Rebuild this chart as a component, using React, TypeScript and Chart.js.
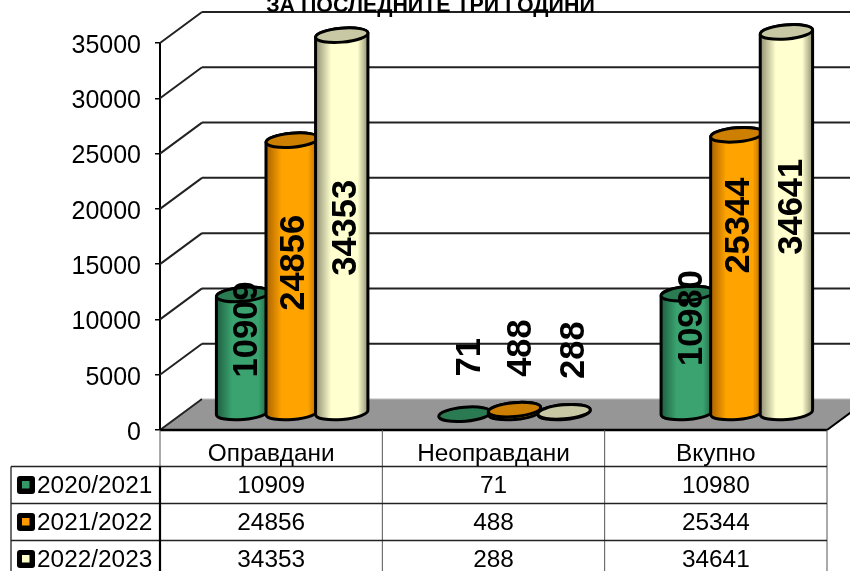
import React, { useEffect, useRef } from "react";
import { Chart, registerables } from "chart.js";

Chart.register(...registerables);

const categories = ["Оправдани", "Неоправдани", "Вкупно"];
const seriesNames = ["2020/2021", "2021/2022", "2022/2023"];
const values2021 = [10909, 71, 10980];
const values2122 = [24856, 488, 25344];
const values2223 = [34353, 288, 34641];
const titleText = "ЗА ПОСЛЕДНИТЕ ТРИ ГОДИНИ";

const FONT = '"Liberation Sans", Arial, sans-serif';
const DEPTH_X = 42;
const DEPTH_Y = 31;
const BAR_SHIFT_X = 21;
const TOP_SHIFT_Y = 15;
const BASE_SHIFT_Y = 17.5;
const ELLIPSE_RY = 7;
const TILT = (-5 * Math.PI) / 180;

const looks = [
  { main: "#3AA36F", dark: "#1E5E40", cap: "#2A7A52", key: "#339966" },
  { main: "#FFA300", dark: "#A86200", cap: "#CC7F00", key: "#FF9900" },
  { main: "#FFFFCF", dark: "#8F8F72", cap: "#C8C8A4", key: "#FFFFCC" },
];

// fine placement of the hand-moved value labels, per series then category
const labelNudge = [
  [[3.5, -24], [4.5, -56], [4.5, -35]],
  [[1.5, -13.5], [6, -63], [2, -48]],
  [[3.5, 4], [9.5, -62], [5.5, -15.5]],
];

const wallsPlugin = {
  id: "walls",
  beforeDatasetsDraw(chart: any) {
    const { ctx, chartArea, scales } = chart;
    const y = scales.y;
    const { left, right } = chartArea;
    const y0 = y.getPixelForValue(0);
    ctx.save();
    ctx.fillStyle = "#969696";
    ctx.beginPath();
    ctx.moveTo(left, y0);
    ctx.lineTo(right, y0);
    ctx.lineTo(right + DEPTH_X, y0 - DEPTH_Y);
    ctx.lineTo(left + DEPTH_X, y0 - DEPTH_Y);
    ctx.closePath();
    ctx.fill();

    ctx.strokeStyle = "#222";
    ctx.lineWidth = 2;
    y.ticks.forEach((t: any) => {
      const py = y.getPixelForValue(t.value);
      if (t.value !== 0) {
        ctx.beginPath();
        ctx.moveTo(left + DEPTH_X, py - DEPTH_Y);
        ctx.lineTo(right + DEPTH_X, py - DEPTH_Y);
        ctx.stroke();
      }
      ctx.beginPath();
      ctx.moveTo(left, py);
      ctx.lineTo(left + DEPTH_X, py - DEPTH_Y);
      ctx.stroke();
    });
    ctx.strokeStyle = "#bbb";
    ctx.lineWidth = 1;
    ctx.beginPath();
    ctx.moveTo(left + DEPTH_X, y0 - DEPTH_Y);
    ctx.lineTo(right + DEPTH_X, y0 - DEPTH_Y);
    ctx.stroke();

    ctx.strokeStyle = "#000";
    ctx.lineWidth = 2;
    ctx.beginPath();
    ctx.moveTo(right, y0);
    ctx.lineTo(right + DEPTH_X, y0 - DEPTH_Y);
    ctx.stroke();
    ctx.lineWidth = 2.6;
    ctx.beginPath();
    ctx.moveTo(left, y0);
    ctx.lineTo(right, y0);
    ctx.stroke();

    ctx.fillStyle = "#000";
    ctx.font = `bold 21.4px ${FONT}`;
    ctx.textAlign = "center";
    ctx.textBaseline = "alphabetic";
    ctx.fillText(titleText, 430.5, 12);
    ctx.restore();
  },
};

const cylinderPlugin = {
  id: "cylinders",
  afterDatasetsDraw(chart: any) {
    const { ctx, scales } = chart;
    const y0 = scales.y.getPixelForValue(0);
    const base = y0 - BASE_SHIFT_Y;
    ctx.save();
    chart.data.datasets.forEach((ds: any, s: number) => {
      const look = looks[s];
      chart.getDatasetMeta(s).data.forEach((bar: any) => {
        const cx = bar.x + BAR_SHIFT_X;
        const top = bar.y - TOP_SHIFT_Y;
        const rx = bar.width / 2;
        ctx.lineWidth = 3;
        ctx.strokeStyle = "#000";
        if (top < base) {
          const g = ctx.createLinearGradient(cx - rx, 0, cx + rx, 0);
          g.addColorStop(0, look.dark);
          g.addColorStop(0.3, look.main);
          g.addColorStop(0.8, look.main);
          g.addColorStop(1, look.dark);
          ctx.fillStyle = g;
          ctx.beginPath();
          ctx.ellipse(cx, base, rx, ELLIPSE_RY, TILT, 0, Math.PI);
          ctx.ellipse(cx, top, rx, ELLIPSE_RY, TILT, Math.PI, Math.PI * 2);
          ctx.closePath();
          ctx.fill();
          ctx.stroke();
        }
        ctx.fillStyle = look.cap;
        ctx.beginPath();
        ctx.ellipse(cx, top, rx, ELLIPSE_RY, TILT, 0, Math.PI * 2);
        ctx.fill();
        ctx.stroke();
      });
    });
    // value labels sit above every cylinder
    chart.data.datasets.forEach((ds: any, s: number) => {
      chart.getDatasetMeta(s).data.forEach((bar: any, c: number) => {
        const [dx, dy] = labelNudge[s][c];
        const top = bar.y - TOP_SHIFT_Y;
        ctx.save();
        ctx.translate(bar.x + BAR_SHIFT_X + dx, (top + base) / 2 + dy);
        ctx.rotate(-Math.PI / 2);
        ctx.fillStyle = "#000";
        ctx.font = `bold 34.5px ${FONT}`;
        ctx.textAlign = "center";
        ctx.textBaseline = "middle";
        ctx.fillText(String(ds.data[c]), 0, 1);
        ctx.restore();
      });
    });
    ctx.restore();
  },
};

const tablePlugin = {
  id: "dataTable",
  afterDraw(chart: any) {
    const { ctx, chartArea, data } = chart;
    const { left, right, bottom } = chartArea;
    const tableLeft = 11;
    const rowH = 37;
    const headBottom = bottom + 36.5;
    const colW = (right - left) / data.labels.length;
    ctx.save();
    ctx.fillStyle = "#000";
    ctx.font = `24.4px ${FONT}`;
    ctx.textBaseline = "middle";

    ctx.strokeStyle = "#555";
    ctx.lineWidth = 1;
    for (let c = 1; c <= data.labels.length; c++) {
      const x = left + c * colW;
      ctx.beginPath();
      ctx.moveTo(x, bottom);
      ctx.lineTo(x, 571);
      ctx.stroke();
    }
    ctx.beginPath();
    ctx.moveTo(left, bottom);
    ctx.lineTo(left, headBottom);
    ctx.stroke();

    ctx.strokeStyle = "#222";
    ctx.lineWidth = 1.3;
    data.datasets.forEach((_: any, r: number) => {
      const ly = headBottom + r * rowH;
      ctx.beginPath();
      ctx.moveTo(tableLeft, ly);
      ctx.lineTo(right, ly);
      ctx.stroke();
    });
    ctx.beginPath();
    ctx.moveTo(tableLeft, headBottom);
    ctx.lineTo(tableLeft, 571);
    ctx.stroke();
    ctx.strokeStyle = "#000";
    ctx.lineWidth = 2.2;
    ctx.beginPath();
    ctx.moveTo(left, headBottom);
    ctx.lineTo(left, 571);
    ctx.stroke();

    ctx.textAlign = "center";
    data.labels.forEach((label: string, c: number) => {
      const cx = left + (c + 0.5) * colW;
      ctx.fillText(label, cx, bottom + 24);
      data.datasets.forEach((ds: any, r: number) => {
        ctx.fillText(String(ds.data[c]), cx, headBottom + r * rowH + 20);
      });
    });

    data.datasets.forEach((ds: any, r: number) => {
      const cy = headBottom + r * rowH + 18.5;
      ctx.fillStyle = "#000";
      ctx.beginPath();
      ctx.roundRect(17, cy - 9, 18, 18, 3);
      ctx.fill();
      ctx.fillStyle = looks[r].key;
      ctx.fillRect(22, cy - 4, 7.5, 7.5);
      ctx.fillStyle = "#000";
      ctx.textAlign = "left";
      ctx.fillText(ds.label, 37, headBottom + r * rowH + 20);
    });
    ctx.restore();
  },
};

export default function App() {
  const ref = useRef<HTMLCanvasElement | null>(null);
  useEffect(() => {
    if (!ref.current) return;
    const common = { backgroundColor: "rgba(0,0,0,0)", borderWidth: 0, barPercentage: 1.06, categoryPercentage: 0.669 };
    const chart = new Chart(ref.current, {
      type: "bar",
      data: {
        labels: categories,
        datasets: [
          { label: seriesNames[0], data: values2021, ...common },
          { label: seriesNames[1], data: values2122, ...common },
          { label: seriesNames[2], data: values2223, ...common },
        ],
      },
      options: {
        animation: false,
        responsive: false,
        layout: { padding: { top: 43, bottom: 141, right: 23, left: 0 } },
        plugins: { legend: { display: false }, tooltip: { enabled: false }, title: { display: false } },
        scales: {
          x: { display: false },
          y: {
            min: 0,
            max: 35000,
            afterFit(scale: any) {
              scale.width = 160;
            },
            ticks: {
              stepSize: 5000,
              padding: 14,
              labelOffset: 3,
              color: "#000",
              font: { family: FONT, size: 25 },
              callback: (v: any) => String(v),
            },
            border: { color: "#000", width: 2 },
            grid: { drawOnChartArea: false, tickLength: 5, color: "#000", lineWidth: 1.5 },
          },
        },
      },
      plugins: [wallsPlugin, cylinderPlugin, tablePlugin],
    } as any);
    return () => chart.destroy();
  }, []);
  return (
    <div style={{ position: "absolute", left: 0, top: 0, width: 850, height: 571, background: "#fff", overflow: "hidden" }}>
      <canvas ref={ref} width={850} height={571} style={{ display: "block" }} />
    </div>
  );
}
